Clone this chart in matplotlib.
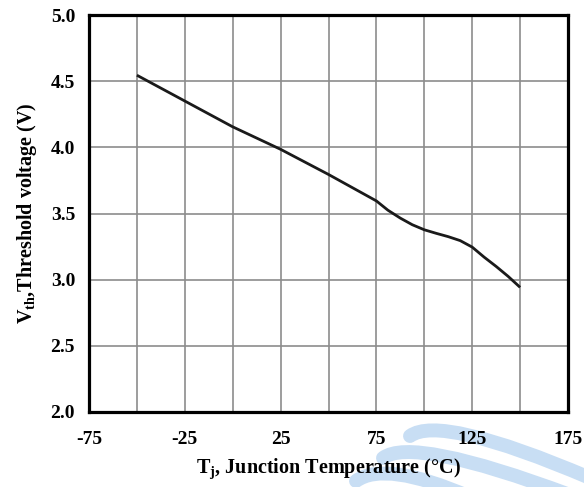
import matplotlib
matplotlib.use("Agg")
import matplotlib.pyplot as plt
from matplotlib.path import Path
from matplotlib.patches import PathPatch
import numpy as np

# Data
temp_c = [-50, -25, 0, 25, 50, 62.5, 75, 81, 87.5, 93.75, 100, 106.25,
          112.5, 118.75, 125, 131.25, 137.5, 143.75, 150]
vth_v = [4.545, 4.35, 4.155, 3.985, 3.795, 3.695, 3.595, 3.525, 3.465, 3.415,
         3.377, 3.35, 3.325, 3.295, 3.246, 3.17, 3.10, 3.025, 2.942]

x_ticks = [-75, -50, -25, 0, 25, 50, 75, 100, 125, 150, 175]
x_labels = ["-75", "", "-25", "", "25", "", "75", "", "125", "", "175"]
y_ticks = [2.0, 2.5, 3.0, 3.5, 4.0, 4.5, 5.0]
y_labels = ["2.0", "2.5", "3.0", "3.5", "4.0", "4.5", "5.0"]

plt.rcParams['font.family'] = ['Liberation Serif', 'DejaVu Serif']
plt.rcParams['font.weight'] = 'bold'
plt.rcParams['mathtext.fontset'] = 'custom'
plt.rcParams['mathtext.rm'] = 'Liberation Serif:bold'
plt.rcParams['mathtext.it'] = 'Liberation Serif:italic:bold'
plt.rcParams['mathtext.bf'] = 'Liberation Serif:bold'

W, H = 584, 487
fig = plt.figure(figsize=(W/100, H/100), dpi=100)

# light blue watermark swooshes (decoration), in figure pixel coords
def swoosh(p0, p1, p2, lw):
    verts = [(p0[0]/W, 1-p0[1]/H), (p1[0]/W, 1-p1[1]/H), (p2[0]/W, 1-p2[1]/H)]
    path = Path(verts, [Path.MOVETO, Path.CURVE3, Path.CURVE3])
    fig.add_artist(PathPatch(path, facecolor='none', edgecolor='#c8def4',
                             linewidth=lw, capstyle='round', zorder=0))

swoosh((410, 436), (440, 414), (590, 478), 10)
swoosh((383, 458), (412, 436), (570, 495), 10)
swoosh((356, 481), (385, 460), (470, 497), 10)

ax = fig.add_axes([89/W, 1-412/H, (568-89)/W, (412-15)/H])
ax.set_xlim(-75, 175)
ax.set_ylim(2.0, 5.0)
ax.set_xticks(x_ticks)
ax.set_xticklabels(x_labels)
ax.set_yticks(y_ticks)
ax.set_yticklabels(y_labels)
ax.grid(True, color='#8c8c8c', linewidth=1.2)
ax.set_axisbelow(True)
ax.tick_params(axis='both', length=0, labelsize=14)
ax.tick_params(axis='x', pad=14)
ax.tick_params(axis='y', pad=10)
for lab in ax.get_xticklabels() + ax.get_yticklabels():
    lab.set_fontweight('bold')
for s in ax.spines.values():
    s.set_linewidth(2.3)
    s.set_color('black')

ax.plot(temp_c, vth_v, color='#1a1a1a', linewidth=2.0, solid_capstyle='butt',
        solid_joinstyle='round')

ax.set_xlabel(r"T$_{\mathrm{j}}$, Junction Temperature (°C)", fontsize=14.5,
              fontweight='bold', labelpad=6)
ax.set_ylabel(r"V$_{\mathrm{th}}$,Threshold voltage (V)", fontsize=14.5,
              fontweight='bold', labelpad=8)

fig.savefig("out.png", dpi=100)
